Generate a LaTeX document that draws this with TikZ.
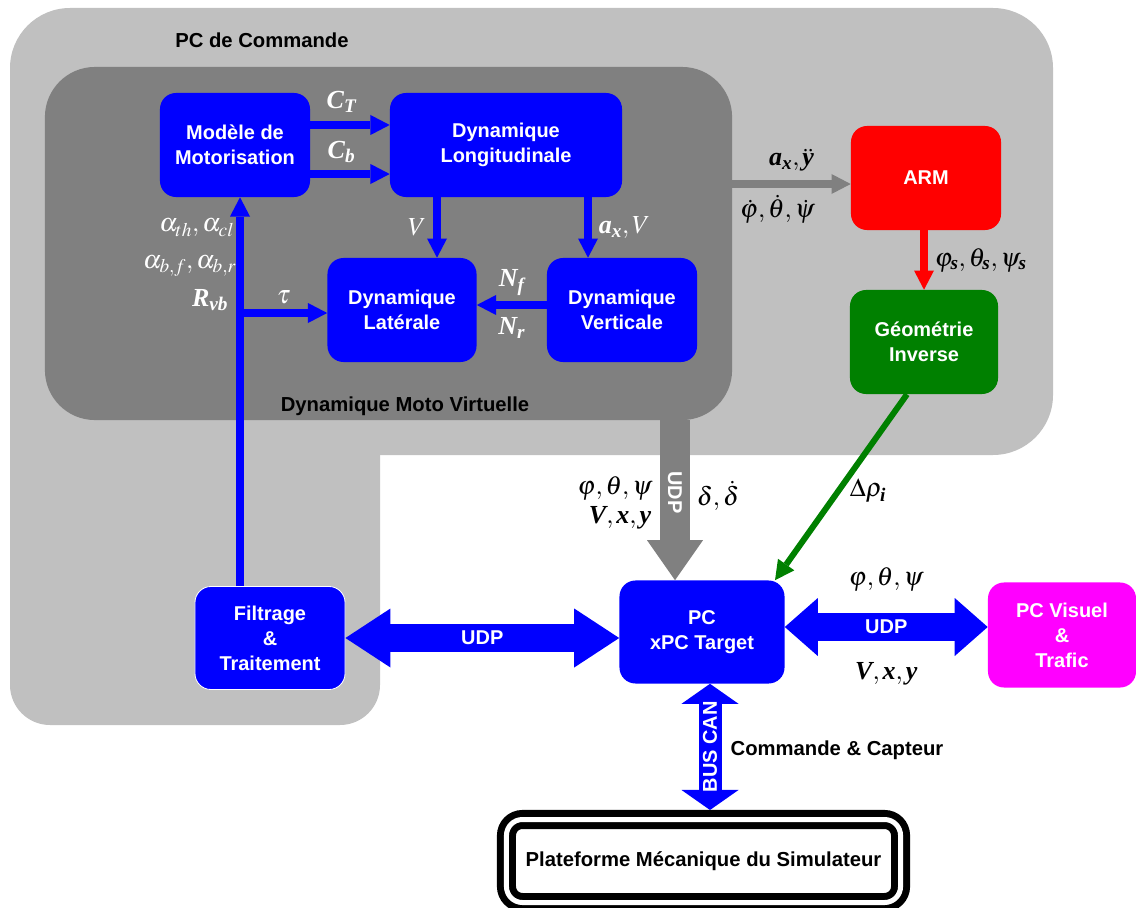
\documentclass[tikz,border=0pt]{standalone}
\usepackage{amsmath}
\usepackage{mathptmx}
\usepackage{fontspec}
\setmainfont{Liberation Sans}
\newfontfamily\tmsfont{Liberation Serif}
\usepackage{tikz}
\usetikzlibrary{arrows.meta}
\definecolor{cmdGray}{RGB}{192,192,192}
\definecolor{motoGray}{RGB}{128,128,128}
\definecolor{blkBlue}{RGB}{0,0,255}
\definecolor{armRed}{RGB}{255,0,0}
\definecolor{geoGreen}{RGB}{0,128,0}
\definecolor{visMagenta}{RGB}{255,0,255}
\newcommand{\bv}[1]{\text{\tmsfont\bfseries\itshape #1}}

\begin{document}
\begin{tikzpicture}[x=0.025cm, y=-0.025cm,
    blk/.style={rounded corners=0.4cm, fill=blkBlue, text=white, inner sep=0pt, align=center,
                font=\bfseries\fontsize{14.2}{17.8}\selectfont},
    lab/.style={text=black, font=\fontsize{18.5}{20}\selectfont, inner sep=1pt},
    wlab/.style={lab, text=white},
    tag/.style={text=white, font=\bfseries\fontsize{14.2}{15}\selectfont},
    sigTip/.tip={Triangle[length=0.48cm, width=0.5cm, line width=0pt]},
    udpTip/.tip={Triangle[length=1.125cm, width=1.475cm, line width=0pt]},
    visTip/.tip={Triangle[length=0.825cm, width=1.45cm, line width=0pt]},
    busTip/.tip={Triangle[length=0.5cm, width=1.425cm, line width=0pt]},
    motoTip/.tip={Triangle[length=1cm, width=1.4cm, line width=0pt]},
    sigArrow/.style={line width=0.19cm, blkBlue, -{sigTip}},
    udpArrow/.style={line width=0.7cm, blkBlue, {udpTip}-{udpTip}},
    visArrow/.style={line width=0.7cm, blkBlue, {visTip}-{visTip}},
    busArrow/.style={line width=0.575cm, blkBlue, {busTip}-{busTip}}
  ]
  \useasboundingbox (0,0) rectangle (1136,907);

  % PC de Commande
  \fill[cmdGray, rounded corners=1.5cm] (10,8) rectangle (1053,455);
  \fill[cmdGray, rounded corners=1cm] (10,300) rectangle (380,725);
  \node[font=\bfseries\fontsize{14.4}{15}\selectfont] (cmdlbl) at (262,40) {PC de Commande};

  % Dynamique Moto Virtuelle
  \node[fill=motoGray, rounded corners=1.25cm, inner sep=0pt, minimum width=17.175cm,
        minimum height=8.825cm] (moto) at (388.5,243.5) {};
  \node[font=\bfseries\fontsize{14.4}{15}\selectfont] (motolbl) at (405,406) {Dynamique Moto Virtuelle};

  \node[blk, minimum width=3.75cm, minimum height=2.6cm] (mot) at (235,145) {Modèle de\\Motorisation};
  \node[blk, minimum width=5.8cm, minimum height=2.6cm] (lon) at (506,145) {Dynamique\\Longitudinale};
  \node[blk, minimum width=3.725cm, minimum height=2.6cm] (lat) at (402,310) {Dynamique\\Latérale};
  \node[blk, minimum width=3.75cm, minimum height=2.6cm] (ver) at (622,310) {Dynamique\\Verticale};
  \node[blk, draw=white, line width=0.6pt, minimum width=3.75cm, minimum height=2.575cm] (fil) at (270,638) {Filtrage\\\&\\Traitement};
  \node[blk, minimum width=4.125cm, minimum height=2.575cm] (xpc) at (702,632) {PC\\xPC Target};
  \node[blk, fill=armRed, minimum width=3.75cm, minimum height=2.6cm] (arm) at (926,178) {ARM};
  \node[blk, fill=geoGreen, minimum width=3.7cm, minimum height=2.6cm] (geo) at (924,342) {Géométrie\\Inverse};
  \node[blk, fill=visMagenta, minimum width=3.7cm, minimum height=2.625cm] (vis) at (1062,635) {PC Visuel\\\&\\Trafic};
  \node[draw, line width=0.175cm, double, double distance=0.125cm, rounded corners=0.4cm, inner sep=0pt,
        minimum width=9.85cm, minimum height=2.075cm, outer sep=0.2375cm,
        font=\bfseries\fontsize{14.4}{15}\selectfont] (plat) at (703.5,861) {Plateforme Mécanique du Simulateur};

  % Signaux internes
  \draw[sigArrow] ([yshift=0.5cm]mot.east) -- ([yshift=0.5cm]lon.west)
    node[wlab, midway, above=5pt, xshift=-6pt] {$\bv{C}_{\bv{T}}$};
  \draw[sigArrow] ([yshift=-0.725cm]mot.east) -- ([yshift=-0.725cm]lon.west)
    node[wlab, midway, above=4pt, xshift=-6pt] {$\bv{C}_{\bv{b}}$};
  \draw[sigArrow] (437,0 |- lon.south) -- (437,0 |- lat.north)
    node[wlab, midway, left=4pt] {$V$};
  \draw[sigArrow] (588,0 |- lon.south) -- (588,0 |- ver.north)
    node[wlab, midway, right=4pt] {$\bv{a}_{\bv{x}},V$};
  \draw[sigArrow] ([yshift=0.125cm]ver.west) -- ([yshift=0.125cm]lat.east)
    node[wlab, midway, above=3pt] {$\bv{N}_{\bv{f}}$}
    node[wlab, midway, below=5pt] {$\bv{N}_{\bv{r}}$};
  \draw[sigArrow] (240,0 |- fil.north) -- (240,0 |- mot.south);
  \coordinate (tau) at (240,313);
  \draw[sigArrow] (tau) -- (tau -| lat.west)
    node[wlab, midway, above=3pt] {$\tau$};
  \node[wlab, anchor=east] (alth) at (236,228) {$\alpha_{th},\alpha_{cl}$};
  \node[wlab, anchor=east] (albf) at (238,266) {$\alpha_{b,f},\alpha_{b,r}$};
  \node[wlab, anchor=east] (rvb) at (230,300) {$\bv{R}_{\bv{vb}}$};

  % ARM et Geometrie Inverse
  \draw[line width=0.2cm, motoGray, -{sigTip}] (moto.east |- 0,184) -- (arm.west |- 0,184)
    node[lab, midway, above=5pt] {$\bv{a}_{\bv{x}},\ddot{\bv{y}}$}
    node[lab, midway, below=4pt, xshift=-10pt] {$\dot{\varphi},\dot{\theta},\dot{\psi}$};
  \draw[sigArrow, armRed] (924,0 |- arm.south) -- (geo.north)
    node[lab, midway, right=4pt] {$\varphi_{\bv{s}},\theta_{\bv{s}},\psi_{\bv{s}}$};
  \draw[sigArrow, geoGreen, line width=0.15cm] ([xshift=-0.425cm]geo.south) -- ([xshift=1.825cm]xpc.north);
  \node[lab] (drho) at (868,491) {$\Delta\rho_{\bv{i}}$};

  % Liaisons UDP
  \draw[line width=0.75cm, motoGray, -{motoTip}] (675,0 |- moto.south) -- (675,0 |- xpc.north)
    node[tag, pos=0.45, rotate=-90] {UDP};
  \node[lab] (angl) at (615,488) {$\varphi,\theta,\psi$};
  \node[lab] (vxyl) at (620,518) {$\bv{V},\bv{x},\bv{y}$};
  \node[lab] (dlt) at (718,496) {$\delta,\dot{\delta}$};
  \draw[udpArrow] (fil.east) -- (fil.east -| xpc.west)
    node[tag, midway] {UDP};
  \draw[visArrow] (xpc.east |- 0,627) -- (vis.west |- 0,627)
    node[tag, midway] {UDP}
    node[lab, midway, above=0.5cm] {$\varphi,\theta,\psi$}
    node[lab, midway, below=0.5cm] {$\bv{V},\bv{x},\bv{y}$};

  % Bus CAN
  \draw[busArrow] (710,0 |- xpc.south) -- (710,0 |- plat.north)
    node[tag, midway, rotate=90] {BUS CAN};
  \node[font=\bfseries\fontsize{14.4}{15}\selectfont] (cmdcap) at (837,750) {Commande \& Capteur};
\end{tikzpicture}
\end{document}
